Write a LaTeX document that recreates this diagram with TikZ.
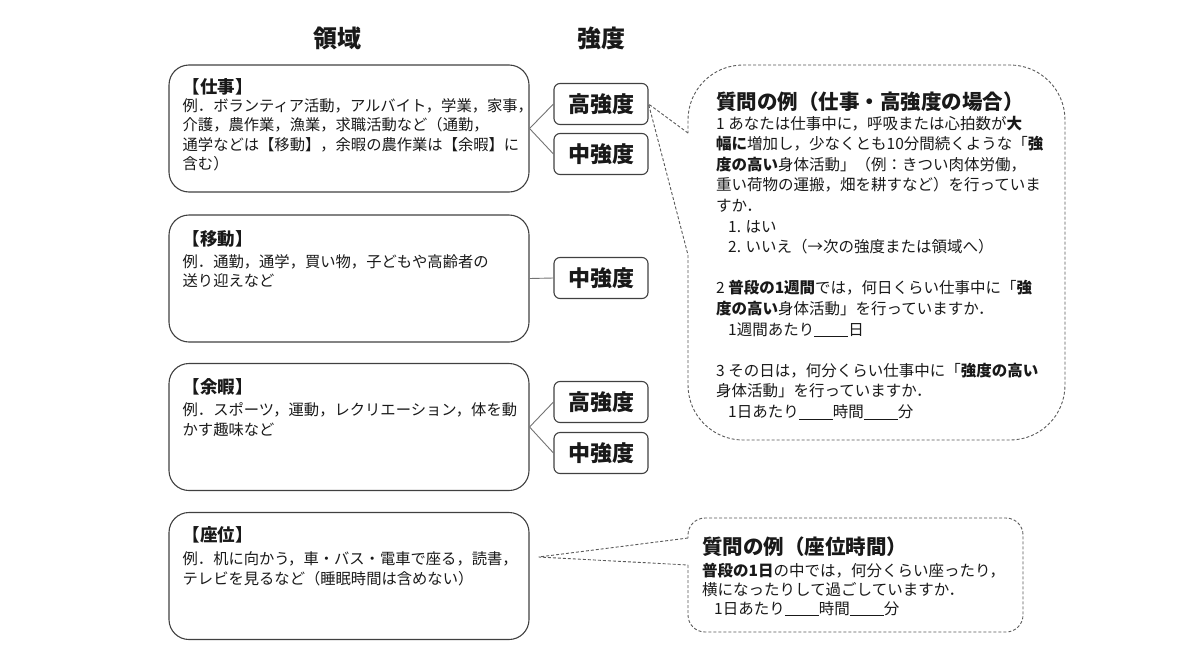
\documentclass[tikz,border=0pt]{standalone}
\usepackage{fontspec}
\setmainfont{Noto Sans CJK JP}
\newcommand\answerline{\rule[-2pt]{34pt}{0.7pt}}

\begin{document}
\begin{tikzpicture}[x=1pt,y=-1pt,
    every node/.style={text=black!90},
    domainbox/.style={draw=black!75, line width=1.1pt, rounded corners=20pt, minimum width=360pt, minimum height=127pt},
    levelbox/.style={draw=black!75, line width=1.1pt, rounded corners=6pt, minimum width=94pt, minimum height=41pt, font=\fontsize{22}{26}\selectfont\bfseries},
    headtext/.style={font=\fontsize{24}{28}\selectfont\bfseries},
    domainhead/.style={inner sep=0pt, anchor=west, font=\fontsize{17.5}{20}\selectfont\bfseries},
    domaintext/.style={inner sep=0pt, anchor=north west, align=left, font=\fontsize{15.3}{19.5}\selectfont},
    link/.style={draw=black!55, line width=0.9pt},
    calloutline/.style={draw=black!65, line width=0.9pt, dash pattern=on 3pt off 2pt},
    qtitle/.style={inner sep=0pt, anchor=west, font=\fontsize{20.5}{24}\selectfont\bfseries},
    qtext/.style={inner sep=0pt, anchor=north west, align=left}]
  \useasboundingbox (0,0) rectangle (1180,664);

  % column heads
  \node[headtext] (domainhd) at (337,38) {領域};
  \node[headtext] (levelhd) at (601,38) {強度};

  % domains
  \node[domainbox] (work) at (349,128.5) {};
  \node[domainbox] (move) at (349,278.5) {};
  \node[domainbox] (leisure) at (349,427) {};
  \node[domainbox] (sit) at (349,576) {};

  \node[domainhead] (workhd) at ([xshift=14pt,yshift=-22pt]work.north west) {【仕事】};
  \node[domaintext] (worktxt) at ([xshift=14pt,yshift=-33pt]work.north west)
    {\strut 例．ボランティア活動，アルバイト，学業，家事，\\
     介護，農作業，漁業，求職活動など（通勤，\\
     通学などは【移動】，余暇の農作業は【余暇】に\\
     含む）};
  \node[domainhead] (movehd) at ([xshift=14pt,yshift=-24pt]move.north west) {【移動】};
  \node[domaintext] (movetxt) at ([xshift=14pt,yshift=-39pt]move.north west)
    {\strut 例．通勤，通学，買い物，子どもや高齢者の\\
     送り迎えなど};
  \node[domainhead] (leisurehd) at ([xshift=14pt,yshift=-24pt]leisure.north west) {【余暇】};
  \node[domaintext] (leisuretxt) at ([xshift=14pt,yshift=-39pt]leisure.north west)
    {\strut 例．スポーツ，運動，レクリエーション，体を動\\
     かす趣味など};
  \node[domainhead] (sithd) at ([xshift=14pt,yshift=-23pt]sit.north west) {【座位】};
  \node[domaintext] (sittxt) at ([xshift=14pt,yshift=-39pt]sit.north west)
    {\strut 例．机に向かう，車・バス・電車で座る，読書，\\
     テレビを見るなど（睡眠時間は含めない）};

  % intensities
  \foreach \name/\y/\txt in {workhi/104/高強度, workmid/154/中強度, movemid/278/中強度,
                             leisurehi/402/高強度, leisuremid/453/中強度}
    \node[levelbox] (\name) at (601,\y) {\txt};

  \foreach \a/\b in {work/workhi, work/workmid, move/movemid, leisure/leisurehi, leisure/leisuremid}
    \draw[link] (\a.east) -- (\b.west);

  % question callouts
  \coordinate (q1top) at (688,133);
  \coordinate (q1bot) at (688,255);
  \draw[calloutline, rounded corners=55pt] (q1bot) -- (688,440) -- (1065,440) -- (1065,65) -- (688,65) -- (q1top);
  \draw[calloutline] (q1top) -- (workhi.east) -- (q1bot);
  \node[qtitle] (q1hd) at (716,102) {質問の例（仕事・高強度の場合）};
  \node[qtext, font=\fontsize{15.5}{20.6}\selectfont] (q1txt) at (716,114.5)
    {\strut 1 あなたは仕事中に，呼吸または心拍数が\textbf{大}\\
     \textbf{幅に}増加し，少なくとも10分間続くような「\textbf{強}\\
     \textbf{度の高い}身体活動」（例：きつい肉体労働，\\
     重い荷物の運搬，畑を耕すなど）を行っていま\\
     すか．\\
     \hspace*{12pt}1. はい\\
     \hspace*{12pt}2. いいえ（→次の強度または領域へ）\\[20.6pt]
     2 \textbf{普段の1週間}では，何日くらい仕事中に「\textbf{強}\\
     \textbf{度の高い}身体活動」を行っていますか．\\
     \hspace*{12pt}1週間あたり\answerline 日\\[20.6pt]
     3 その日は，何分くらい仕事中に「\textbf{強度の高い}\\
     身体活動」を行っていますか．\\
     \hspace*{12pt}1日あたり\answerline 時間\answerline 分};

  \coordinate (sittip) at ([shift={(9pt,19pt)}]sit.east);
  \coordinate (q2top) at (688,538);
  \coordinate (q2bot) at (688,565);
  \draw[calloutline, rounded corners=17pt] (q2bot) -- (688,632) -- (1023,632) -- (1023,518) -- (688,518) -- (q2top);
  \draw[calloutline] (q2top) -- (sittip) -- (q2bot);
  \node[qtitle] (q2hd) at (702,547) {質問の例（座位時間）};
  \node[qtext, font=\fontsize{15.5}{18.5}\selectfont] (q2txt) at (702,562.5)
    {\strut\textbf{普段の1日}の中では，何分くらい座ったり，\\
     横になったりして過ごしていますか．\\
     \hspace*{12pt}1日あたり\answerline 時間\answerline 分};
\end{tikzpicture}
\end{document}
